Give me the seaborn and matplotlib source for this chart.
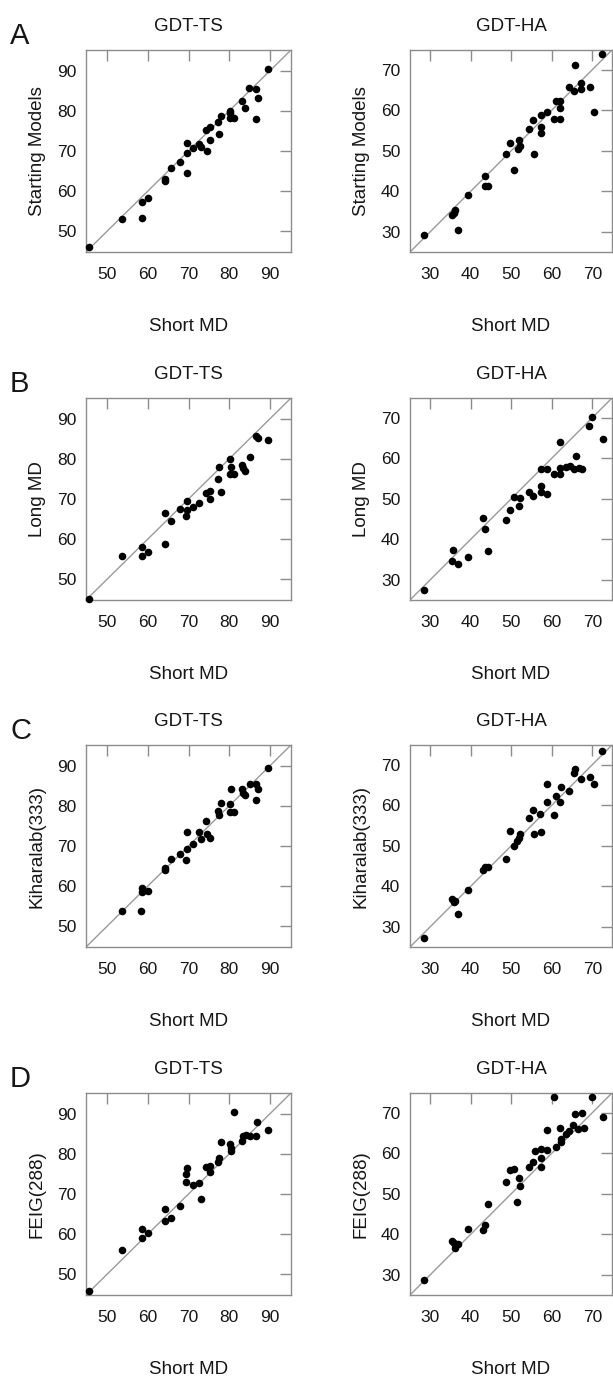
import numpy as np
import pandas as pd
import matplotlib
matplotlib.use("Agg")
import matplotlib.pyplot as plt
import seaborn as sns

sns.set_style("white")
plt.rcParams['font.family'] = ['Liberation Sans', 'DejaVu Sans']

# ---- data (Short MD on x, other method on y) ----
# row A : Starting Models
ts_a_x = [45.6, 53.6, 58.6, 60.1, 58.5, 64.2, 64.2, 65.7, 68.0, 69.6, 69.6, 69.6, 71.2, 72.5, 73.1, 74.5, 75.2,
          74.4, 75.4, 77.6, 77.2, 78.0, 80.3, 80.3, 80.1, 81.1, 83.2, 83.8, 84.9, 86.6, 87.0, 86.7, 89.6]
ts_a_y = [46.0, 53.0, 57.3, 58.3, 53.4, 62.9, 62.4, 65.8, 67.2, 69.4, 64.5, 72.1, 70.8, 71.8, 71.1, 70.1, 72.7,
          75.2, 75.9, 74.3, 77.2, 78.7, 80.1, 79.5, 78.3, 78.3, 82.6, 80.8, 85.7, 85.5, 83.2, 78.0, 90.4]
ha_a_x = [28.6, 35.5, 36.0, 36.1, 36.9, 39.4, 43.5, 43.5, 44.3, 48.6, 49.6, 50.8, 51.6, 51.8, 52.2, 54.5, 55.3,
          55.6, 57.4, 57.4, 57.4, 58.8, 60.9, 62.1, 62.0, 60.6, 62.1, 64.3, 65.4, 65.8, 67.2, 67.2, 69.5, 70.4, 72.3]
ha_a_y = [29.2, 34.1, 34.8, 35.4, 30.5, 39.2, 43.8, 41.4, 41.4, 49.1, 51.9, 45.2, 50.4, 52.7, 51.2, 55.4, 57.7,
          49.1, 58.8, 55.8, 54.5, 59.6, 62.3, 62.3, 60.5, 57.8, 57.8, 65.7, 64.6, 71.0, 66.7, 65.1, 65.7, 59.5, 73.8]

# row B : Long MD
ts_b_x = [45.6, 53.6, 58.6, 58.5, 60.1, 64.2, 64.2, 65.7, 68.0, 69.6, 69.6, 69.4, 71.2, 72.5, 74.3, 75.4, 75.2,
          78.0, 77.3, 77.6, 80.3, 80.5, 80.3, 81.3, 83.2, 84.0, 83.4, 85.1, 86.6, 87.0, 89.6]
ts_b_y = [45.1, 55.9, 57.9, 55.7, 56.7, 66.5, 58.8, 64.5, 67.6, 69.4, 67.2, 65.8, 68.0, 69.1, 71.5, 71.9, 69.9,
          71.7, 75.0, 77.9, 80.0, 78.1, 76.2, 76.2, 78.6, 77.1, 77.7, 80.5, 85.7, 85.1, 84.7]
ha_b_x = [28.6, 35.7, 35.5, 36.9, 39.4, 43.1, 43.5, 44.2, 48.6, 49.6, 50.8, 51.8, 52.2, 54.5, 55.3, 57.4, 57.4,
          57.4, 58.8, 58.8, 60.6, 62.1, 62.1, 62.1, 63.5, 64.5, 65.5, 66.0, 66.8, 67.5, 69.2, 69.9, 72.5]
ha_b_y = [27.6, 37.3, 34.7, 34.0, 35.7, 45.2, 42.6, 37.2, 44.7, 47.2, 50.5, 48.2, 50.1, 51.6, 50.7, 57.3, 53.1,
          51.7, 51.1, 57.3, 56.0, 63.9, 57.5, 56.2, 57.8, 58.0, 57.3, 60.5, 57.5, 57.3, 68.0, 70.2, 64.8]

# row C : Kiharalab(333)
ts_c_x = [53.6, 58.3, 58.6, 58.6, 60.1, 64.2, 64.2, 65.7, 68.0, 69.6, 69.4, 69.7, 71.2, 72.5, 73.1, 74.5, 75.2,
          74.4, 77.3, 77.6, 78.0, 80.3, 80.3, 81.3, 80.5, 83.2, 83.4, 83.8, 85.1, 86.6, 87.0, 86.7, 89.6]
ts_c_y = [53.8, 53.8, 59.6, 58.5, 58.8, 64.6, 64.0, 66.7, 67.9, 69.3, 66.6, 73.5, 70.4, 73.5, 71.7, 72.9, 72.0,
          76.2, 78.8, 77.7, 80.8, 80.4, 78.4, 78.5, 84.2, 84.1, 83.1, 82.7, 85.4, 85.4, 84.1, 81.4, 89.5]
ha_c_x = [28.6, 35.5, 36.0, 36.2, 36.9, 39.4, 43.1, 43.5, 44.3, 48.6, 49.6, 50.8, 51.5, 51.8, 52.2, 54.5, 55.3,
          55.6, 57.2, 57.4, 58.8, 58.8, 60.6, 61.0, 62.1, 62.3, 64.3, 65.5, 65.8, 67.2, 69.5, 70.4, 72.3]
ha_c_y = [27.4, 37.0, 36.1, 36.5, 33.1, 39.2, 44.0, 44.8, 44.8, 46.7, 53.7, 50.0, 51.2, 52.0, 52.8, 56.8, 58.9,
          52.8, 57.8, 53.4, 60.7, 65.2, 57.5, 62.2, 60.7, 64.4, 63.4, 67.8, 68.9, 66.4, 67.0, 65.2, 73.3]

# row D : FEIG(288)
ts_d_x = [45.6, 53.6, 58.6, 58.5, 60.1, 64.2, 64.2, 65.7, 68.0, 69.6, 69.4, 69.4, 71.2, 72.5, 73.1, 74.4, 75.4,
          75.2, 77.3, 77.6, 78.0, 80.3, 80.5, 80.5, 81.1, 83.2, 83.4, 84.2, 85.2, 86.5, 86.9, 89.6]
ts_d_y = [45.8, 56.1, 61.3, 59.1, 60.3, 66.3, 63.2, 64.0, 67.1, 76.5, 74.9, 73.1, 72.2, 72.8, 68.7, 76.7, 77.1,
          75.5, 77.9, 78.9, 83.0, 82.5, 81.6, 80.7, 90.5, 83.2, 84.5, 84.8, 84.5, 84.4, 87.9, 85.9]
ha_d_x = [28.6, 35.5, 36.0, 36.1, 36.9, 39.4, 43.1, 43.5, 44.2, 48.6, 49.6, 50.8, 51.5, 51.8, 52.2, 54.5, 55.3,
          55.8, 57.4, 57.4, 57.4, 58.8, 58.8, 60.6, 61.0, 62.1, 62.2, 62.2, 63.5, 64.2, 65.2, 65.8, 66.5, 67.4,
          68.0, 69.8, 72.5]
ha_d_y = [28.7, 38.5, 37.9, 36.6, 37.6, 41.3, 41.2, 42.4, 47.5, 52.8, 55.8, 56.1, 47.9, 53.8, 51.8, 56.5, 57.9,
          60.6, 61.0, 58.9, 56.5, 65.7, 60.8, 73.7, 61.6, 66.3, 63.6, 62.8, 64.6, 65.5, 67.0, 69.6, 66.0, 69.8,
          66.2, 73.7, 69.0]

row_letters = ["A", "B", "C", "D"]
row_labels = ["Starting Models", "Long MD", "Kiharalab(333)", "FEIG(288)"]
col_titles = ["GDT-TS", "GDT-HA"]
ts_ticks = [50, 60, 70, 80, 90]
ha_ticks = [30, 40, 50, 60, 70]

rows = [
    ((ts_a_x, ts_a_y), (ha_a_x, ha_a_y)),
    ((ts_b_x, ts_b_y), (ha_b_x, ha_b_y)),
    ((ts_c_x, ts_c_y), (ha_c_x, ha_c_y)),
    ((ts_d_x, ts_d_y), (ha_d_x, ha_d_y)),
]

W, H = 613, 1377
fig = plt.figure(figsize=(W / 100, H / 100), dpi=100)

col_left = [86, 410]
col_width = [205, 202]
row_top = [50, 398, 745, 1093]
ax_h = 202
lims = [(44.8, 95.2), (25.1, 74.8)]
ticks = [ts_ticks, ha_ticks]
gray = "#8c8c8c"
txt = "#161616"

for r, pair in enumerate(rows):
    for c, (xs, ys) in enumerate(pair):
        ax = fig.add_axes([col_left[c] / W, 1 - (row_top[r] + ax_h) / H, col_width[c] / W, ax_h / H])
        df = pd.DataFrame({"short": xs, "other": ys})
        lo, hi = lims[c]
        # identity line
        ax.plot([lo, hi], [lo, hi], color="#9a9a9a", lw=1.0, zorder=1)
        sns.scatterplot(data=df, x="short", y="other", ax=ax, color="black", s=30,
                        edgecolor="black", linewidth=0, zorder=3, clip_on=False)
        ax.set_xlim(lo, hi)
        ax.set_ylim(lo, hi)
        ax.set_xticks(ticks[c])
        ax.set_yticks(ticks[c])
        ax.tick_params(direction="in", length=8, width=1, color=gray, top=True, right=True,
                       labelsize=12.5, pad=11, labelcolor=txt)
        ax.tick_params(axis="y", pad=7)
        for sp in ax.spines.values():
            sp.set_color(gray)
            sp.set_linewidth(1.0)
        ax.set_xlabel("Short MD", fontsize=13.5, labelpad=26, color=txt)
        ax.set_ylabel(row_labels[r], fontsize=13.5, labelpad=8, color=txt)
        ax.set_title(col_titles[c], fontsize=13.5, pad=14, color=txt)
    fig.text(10 / W, 1 - (row_top[r] - 14) / H, row_letters[r], fontsize=21, ha="left", va="center", color=txt)

fig.savefig("out.png", dpi=100)
